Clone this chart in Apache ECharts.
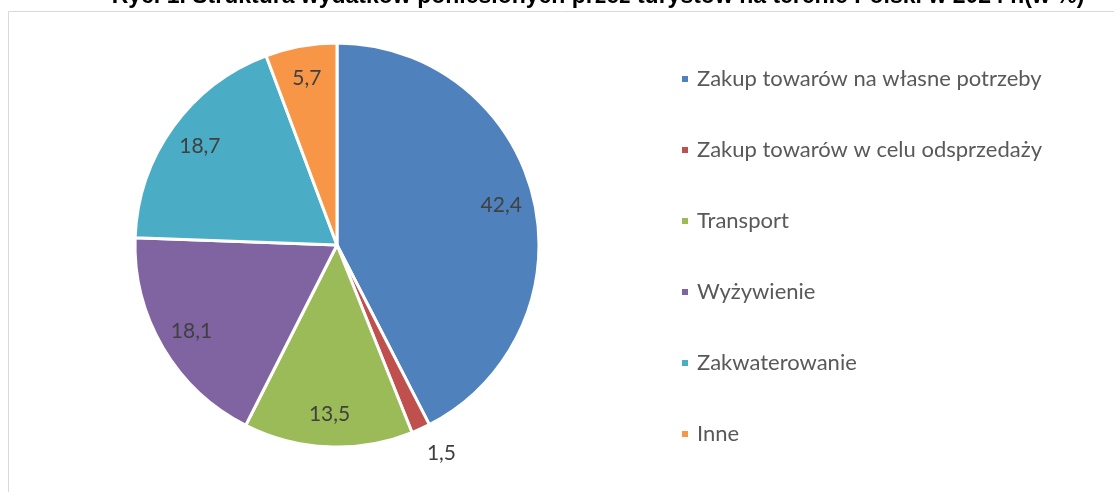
<!DOCTYPE html>
<html>
<head>
<meta charset="utf-8">
<script src="https://cdn.jsdelivr.net/npm/echarts@6/dist/echarts.min.js"></script>
<style>
  html, body { margin: 0; padding: 0; background: #fff; }
  #wykres { width: 1114px; height: 492px; }
</style>
</head>
<body>
<div id="wykres"></div>
<script>
    var kategorie = ['Zakup towarów na własne potrzeby', 'Zakup towarów w celu odsprzedaży', 'Transport', 'Wyżywienie', 'Zakwaterowanie', 'Inne'];
    var wartosci = [42.4, 1.5, 13.5, 18.1, 18.7, 5.7];
    var kolory = ['#4F81BD', '#C0504D', '#9BBB59', '#8064A2', '#4BACC6', '#F79646'];
    var tytul = 'Ryc. 1. Struktura wydatków poniesionych przez turystów na terenie Polski w 2024 r.(w %)';

    var chartDom = document.getElementById('wykres');
    var myChart = echarts.init(chartDom);

    function przecinek(p) {
        return String(p.value).replace('.', ',');
    }

    // glowny wykres - tylko etykieta 1,5 na zewnatrz
    var dane = kategorie.map(function (k, i) {
        return {
            name: k,
            value: wartosci[i],
            itemStyle: { color: kolory[i] },
            label: { show: wartosci[i] < 3, offset: [-8, 4] }
        };
    });

    // przezroczysta nakladka z etykietami w srodku wycinkow
    var daneEtykiet = kategorie.map(function (k, i) {
        return {
            name: k,
            value: wartosci[i],
            label: { show: wartosci[i] >= 3 }
        };
    });

    var option = {
        animation: false,
        color: kolory,
        graphic: [
            {
                type: 'rect',
                shape: { x: 8.5, y: 11.5, width: 1300, height: 600 },
                style: { fill: 'none', stroke: '#d9d9d9', lineWidth: 1 }
            },
            {
                type: 'text',
                x: 598,
                y: -3,
                style: {
                    text: tytul,
                    font: 'bold 23px "Liberation Sans", Arial, sans-serif',
                    fill: '#000',
                    align: 'center',
                    verticalAlign: 'middle'
                }
            }
        ],
        legend: {
            orient: 'vertical',
            left: 675,
            top: 63,
            itemWidth: 8,
            itemHeight: 8,
            itemGap: 49,
            icon: 'rect',
            data: kategorie,
            textStyle: {
                fontFamily: 'Lato',
                fontSize: 22,
                color: '#595959',
                padding: [0, 0, 0, 3]
            }
        },
        series: [
            {
                type: 'pie',
                center: [337, 245],
                radius: [0, 202],
                startAngle: 90,
                clockwise: true,
                silent: true,
                itemStyle: { borderColor: '#fff', borderWidth: 3 },
                label: {
                    position: 'outside',
                    formatter: przecinek,
                    fontFamily: 'Lato',
                    fontSize: 21,
                    color: '#404040'
                },
                labelLine: { show: false, length: 22, length2: 0 },
                data: dane
            },
            {
                type: 'pie',
                center: [337, 245],
                radius: [130, 202],
                startAngle: 90,
                clockwise: true,
                silent: true,
                itemStyle: { color: 'rgba(0,0,0,0)', borderWidth: 0 },
                label: {
                    position: 'inside',
                    formatter: przecinek,
                    fontFamily: 'Lato',
                    fontSize: 21,
                    color: '#404040'
                },
                labelLine: { show: false },
                data: daneEtykiet
            }
        ]
    };

    option && myChart.setOption(option);
</script>
</body>
</html>
